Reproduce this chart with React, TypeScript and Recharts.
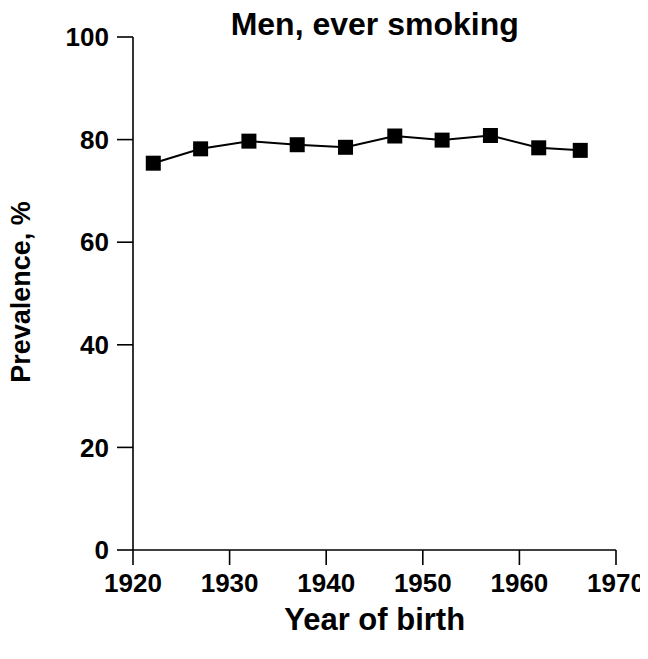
import React from 'react';
import { LineChart, Line, XAxis, YAxis } from 'recharts';

const birthYears = [1922.1, 1927, 1932, 1937, 1942, 1947.1, 1952, 1957, 1962, 1966.3];
const everSmoking = [75.4, 78.2, 79.7, 79.0, 78.5, 80.7, 79.9, 80.8, 78.4, 77.9];
const xTicks = [1920, 1930, 1940, 1950, 1960, 1970];
const yTicks = [0, 20, 40, 60, 80, 100];

const chartData = birthYears.map((year, i) => ({ year, value: everSmoking[i] }));

const FONT = '"Liberation Sans", Arial, sans-serif';
const W = 632;
const H = 643;

const SquareDot = (props: any) => {
  const { cx, cy } = props;
  if (cx == null || cy == null) return null;
  return <rect x={cx - 7.5} y={cy - 7.5} width={15} height={15} fill="#000" />;
};

export default function App() {
  const tickStyle = { fontSize: 26, fontWeight: 700, fill: '#000', fontFamily: FONT };
  return (
    <div style={{ position: 'relative', width: W, height: H, background: '#fff' }}>
      <style>{'.recharts-surface, .recharts-wrapper { overflow: visible !important; }'}</style>
      <LineChart
        width={W}
        height={H}
        data={chartData}
        margin={{ top: 29, right: 24, bottom: 0, left: 0 }}
      >
        <XAxis
          dataKey="year"
          type="number"
          domain={[1920, 1970]}
          ticks={xTicks}
          height={101}
          tickSize={15}
          tickMargin={9}
          axisLine={{ stroke: '#000', strokeWidth: 1.6 }}
          tickLine={{ stroke: '#000', strokeWidth: 1.6 }}
          tick={tickStyle}
          interval={0}
        />
        <YAxis
          type="number"
          domain={[0, 100]}
          ticks={yTicks}
          width={125}
          tickSize={16}
          tickMargin={8}
          axisLine={{ stroke: '#000', strokeWidth: 1.6 }}
          tickLine={{ stroke: '#000', strokeWidth: 1.6 }}
          tick={tickStyle}
          interval={0}
        />
        <Line
          dataKey="value"
          stroke="#000"
          strokeWidth={2}
          dot={<SquareDot />}
          activeDot={false}
          isAnimationActive={false}
        />
      </LineChart>
      <svg
        width={W}
        height={H}
        style={{ position: 'absolute', left: 0, top: 0, pointerEvents: 'none', overflow: 'visible' }}
      >
        <text x={366.7} y={27} textAnchor="middle" fontSize={32} fontWeight={700} fontFamily={FONT} fill="#000">
          Men, ever smoking
        </text>
        <text x={366.7} y={622} textAnchor="middle" fontSize={31} fontWeight={700} fontFamily={FONT} fill="#000">
          Year of birth
        </text>
        <text
          x={0}
          y={0}
          transform="translate(22, 284) rotate(-90)"
          textAnchor="middle"
          fontSize={27}
          fontWeight={700}
          fontFamily={FONT}
          fill="#000"
        >
          Prevalence, %
        </text>
      </svg>
    </div>
  );
}
